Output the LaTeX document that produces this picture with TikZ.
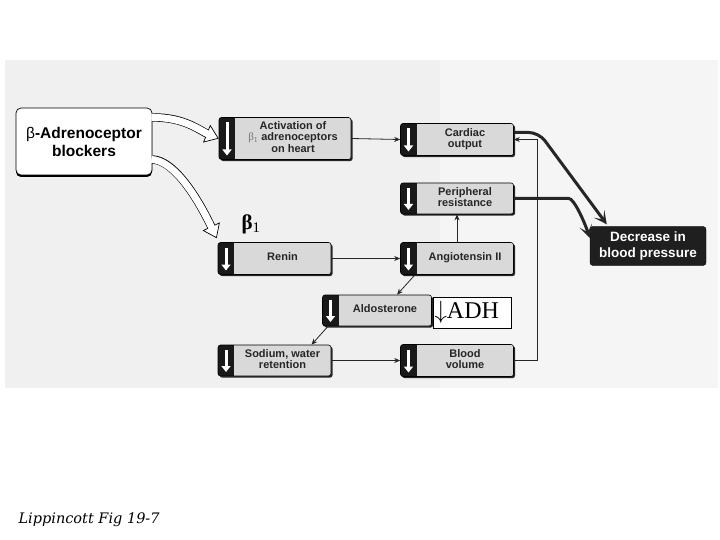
\documentclass[tikz,border=0pt]{standalone}
\usepackage{fontspec}
\setmainfont{Liberation Serif}
\setsansfont{Liberation Sans}
\newfontfamily\captionfont{DejaVu Serif}
\usetikzlibrary{arrows.meta,shadows}
\newcommand{\fxt}[1]{\hspace*{16pt}\renewcommand{\arraystretch}{0.92}\begin{tabular}{@{}c@{}}#1\end{tabular}}

\begin{document}
\begin{tikzpicture}[x=1pt,y=-1pt]
\tikzset{
  effectbox/.style={rectangle,draw=black,line width=0.6pt,rounded corners=2.5pt,fill=black!15,
    minimum width=113pt,minimum height=32pt,inner sep=1pt,text=black!85,
    font=\sffamily\bfseries\fontsize{11}{11.5}\selectfont,
    drop shadow={shadow xshift=1.6pt,shadow yshift=-1.6pt,fill=black!85,opacity=1},
    path picture={
      \fill[black!90,sharp corners] (path picture bounding box.south west) rectangle ([xshift=16pt]path picture bounding box.north west);
      \draw[white,line width=3pt,-{Triangle[length=6pt,width=9pt]}]
        ([xshift=8pt,yshift=-5pt]path picture bounding box.north west) -- ([xshift=8pt,yshift=4pt]path picture bounding box.south west);
    }},
  blockerbox/.style={rectangle,draw=black,line width=0.7pt,rounded corners=5pt,fill=white,
    minimum width=136pt,minimum height=67pt,align=center,
    font=\sffamily\bfseries\fontsize{15.5}{18}\selectfont,
    drop shadow={shadow xshift=0pt,shadow yshift=-2pt,fill=black,opacity=1}},
  outcomebox/.style={rectangle,draw=black,fill=black!88,rounded corners=3pt,text=white,align=center,
    minimum width=116pt,minimum height=39pt,font=\sffamily\bfseries\fontsize{13.5}{15.5}\selectfont},
  conn/.style={line width=0.8pt,black!85,-{Stealth[length=6pt,width=5pt]}},
  bigarrow/.style={line width=3pt,black!85,rounded corners=10pt,-{Stealth[length=13pt,width=13pt,inset=7pt]}},
  hollow/.style={white,line width=0.7pt,
    preaction={draw=black,line width=8.4pt,arrows=-,shorten >=10pt,shorten <=1pt},
    postaction={draw=white,line width=7pt,arrows=-,shorten >=9pt},
    -{Triangle[fill=white,color=black,length=13pt,width=19pt,line width=0.7pt]}}
}
\useasboundingbox (0,0) rectangle (720,540);
% scanned backdrop
\fill[black!6] (5,60) rectangle (440,388);
\fill[black!4] (440,60) rectangle (718,388);

\node[blockerbox] (n_blk) at (84,141.5) {{\mdseries β}-Adrenoceptor\\blockers};

\node[effectbox,minimum width=132pt,minimum height=42pt] (n_act) at (285,138.5)
  {\fxt{Activation of\\{\color{black!55}\rmfamily\mdseries β\textsubscript{1}} adrenoceptors\\on heart}};
\node[effectbox] (n_card) at (457,139.5) {\fxt{Cardiac\\output}};
\node[effectbox,minimum height=31pt] (n_per) at (457,198.5) {\fxt{Peripheral\\resistance}};
\node[effectbox] (n_ang) at (457,258.5) {\fxt{Angiotensin II}};
\node[effectbox] (n_ren) at (274.5,258.5) {\fxt{Renin}};
\node[effectbox,minimum width=109pt,minimum height=31pt] (n_ald) at (377,310.5) {\fxt{Aldosterone}};
\node[effectbox,minimum height=31pt] (n_sod) at (274.5,360.5) {\fxt{Sodium, water\\retention}};
\node[effectbox] (n_bld) at (457,360.5) {\fxt{Blood\\volume}};
\node[outcomebox] (n_dec) at (648,246) {Decrease in\\blood pressure};

\node[draw,line width=0.5pt,fill=white,text width=76pt,align=left,inner xsep=1pt,
  minimum height=31pt,font=\rmfamily\fontsize{24}{24}\selectfont] (n_adh) at (472.5,312.5) {$\downarrow$ADH};
\node[font=\rmfamily\bfseries\fontsize{21}{21}\selectfont] (n_beta) at (251,224) {β\textsubscript{\mdseries 1}};

% blocker arrows
\draw[hollow] ([xshift=-1pt,yshift=24pt]n_blk.east) .. controls (185,117) and (200,131) .. (n_act.west);
\draw[hollow] ([xshift=-1pt,yshift=-18pt]n_blk.east) .. controls (172,160) and (195,192) .. ([xshift=-1pt,yshift=4pt]n_ren.north west);

% chain
\draw[conn] (n_act.east) -- (n_card.west);
\draw[conn] (n_ren.east) -- (n_ang.west);
\draw[conn] (n_ang.north) -- (n_per.south);
\draw[conn] ([xshift=-42pt]n_ang.south) -- ([xshift=20pt]n_ald.north);
\draw[conn] ([xshift=-49pt]n_ald.south) -- ([xshift=37pt]n_sod.north);
\draw[conn] (n_sod.east) -- (n_bld.west);
\draw[conn] (n_bld.east) -- ++(24,0) |- (n_card.east);

% to blood pressure
\draw[bigarrow] ([yshift=7pt]n_card.east) -- ++(25,0) -- ([xshift=17pt,yshift=2pt]n_dec.north west);
\draw[bigarrow] (n_per.east) -- ++(45,0) .. controls +(15,0) and +(-6,-18) .. ([yshift=8pt]n_dec.west);

\node[anchor=west,font=\captionfont\itshape\fontsize{14.5}{14.5}\selectfont] (n_cap) at (15,520) {Lippincott Fig 19-7};
\end{tikzpicture}
\end{document}
